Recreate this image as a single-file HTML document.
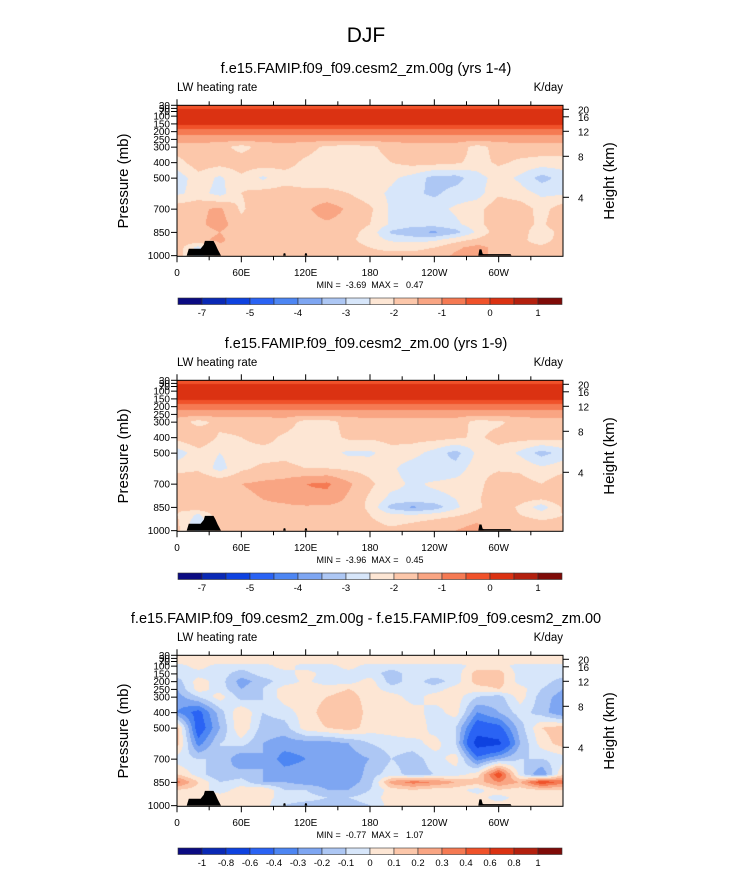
<!DOCTYPE html>
<html><head><meta charset="utf-8">
<style>
body{margin:0;background:#fff;}
#wrap{position:relative;width:733px;height:872px;overflow:hidden;background:#fff;font-family:"Liberation Sans",sans-serif;}
canvas{position:absolute;left:177px;}
svg{position:absolute;left:0;top:0;}
</style></head>
<body>
<div id="wrap">
<canvas id="c0" width="386" height="151" style="top:105px"></canvas>
<canvas id="c1" width="386" height="151" style="top:380px"></canvas>
<canvas id="c2" width="386" height="151" style="top:655px"></canvas>
<svg id="ov" width="733" height="872"></svg>
</div>
<script>
const levels=[30,70,100,150,200,250,300,400,500,600,700,800,850,900,950,1000];
const lons=[0,20,40,60,80,100,120,140,160,180,200,220,240,260,280,300,320,340,360];
const colors=["#0b0b82","#0a29b5","#0e42e0","#2a63f4","#4d86f3","#7ea6f2","#adc7f4","#d7e6fa","#fde6d4","#fcc7aa","#f9a583","#f57a53","#f0522a","#db3212","#b3200e","#7f0b08"];
const boundsAbs=[-7,-6,-5,-4.5,-4,-3.5,-3,-2.5,-2,-1.5,-1,-0.5,0,0.5,1];
const boundsDiff=[-1,-0.8,-0.6,-0.4,-0.3,-0.2,-0.1,0,0.1,0.2,0.3,0.4,0.6,0.8,1];
const labelsAbs=["-7","","-5","","-4","","-3","","-2","","-1","","0","","1"];
const labelsDiff=["-1","-0.8","-0.6","-0.4","-0.3","-0.2","-0.1","0","0.1","0.2","0.3","0.4","0.6","0.8","1"];
const xTickLabels=["0","60E","120E","180","120W","60W"];
const xTickLons=[0,60,120,180,240,300];
const pTicks=[30,50,70,100,150,200,250,300,400,500,700,850,1000];
const hTicks=["20","16","12","8","4"];
const hTickOffsets=[4,11.5,26,51,92];
function row(v){return Array(19).fill(v);}
const dataA=[row(-0.3),row(0.2),row(0.3),row(0.1),row(-0.7),row(-1.3),
[-1.7,-1.7,-1.8,-2.2,-1.8,-1.7,-1.8,-2.1,-2.2,-2.1,-1.8,-1.7,-1.7,-1.7,-2.2,-1.8,-1.7,-1.7,-1.7],
[-2.2,-1.7,-1.8,-1.7,-1.7,-1.8,-2.1,-2.3,-2.2,-2.2,-2.0,-1.8,-1.8,-1.9,-2.2,-1.9,-2.1,-2.2,-2.2],
[-2.8,-2.2,-2.6,-2.1,-2.6,-2.2,-2.2,-2.2,-2.2,-2.2,-2.4,-2.7,-3.2,-3.2,-2.7,-2.3,-2.6,-3.2,-2.8],
[-2.6,-2.3,-2.7,-2.0,-1.8,-1.8,-1.9,-1.9,-2.0,-2.3,-2.6,-2.9,-3.1,-2.8,-2.7,-2.1,-2.3,-2.6,-2.6],
[-1.7,-1.6,-1.4,-2.1,-1.6,-1.6,-1.6,-1.2,-1.6,-1.9,-2.6,-2.7,-2.7,-2.4,-2.2,-1.6,-1.7,-2.2,-1.7],
[-1.6,-1.6,-1.3,-1.8,-1.6,-1.6,-1.7,-1.6,-1.7,-2.0,-2.6,-2.8,-2.8,-2.6,-2.2,-1.6,-1.8,-2.1,-1.6],
[-1.8,-1.7,-1.5,-1.8,-1.7,-1.6,-1.6,-1.7,-1.8,-2.2,-3.1,-3.4,-3.6,-3.2,-2.4,-1.7,-1.8,-2.3,-1.8],
[-1.8,-1.6,-1.4,-1.8,-1.7,-1.6,-1.6,-1.7,-1.9,-2.2,-2.6,-2.7,-2.6,-2.2,-1.9,-1.6,-1.9,-2.2,-1.8],
[-1.7,-2.7,-1.6,-1.7,-1.7,-1.6,-1.5,-1.7,-1.8,-2.0,-2.1,-2.1,-2.0,-1.6,-1.3,-1.7,-1.9,-1.9,-1.7],
[-1.7,-2.8,-1.7,-1.7,-1.7,-1.6,-1.6,-1.7,-1.8,-1.9,-1.9,-1.9,-1.8,-1.4,-1.3,-1.7,-1.8,-1.8,-1.7]];
const dataB=[row(-0.3),row(0.2),row(0.3),row(0.1),row(-0.7),row(-1.3),
[-1.7,-2.2,-1.8,-1.8,-1.8,-1.7,-2.2,-2.2,-1.8,-1.7,-1.7,-1.7,-1.7,-1.7,-2.2,-2.1,-1.8,-1.7,-1.7],
[-1.8,-1.5,-2.1,-2.0,-1.8,-2.1,-2.3,-2.2,-1.9,-1.9,-1.8,-1.8,-1.8,-1.9,-2.1,-1.8,-1.8,-1.8,-1.8],
[-2.8,-2.2,-2.5,-2.2,-2.2,-2.1,-2.2,-2.3,-2.6,-2.6,-2.2,-2.3,-2.7,-3.2,-2.4,-2.2,-2.6,-3.2,-2.8],
[-2.2,-2.1,-2.7,-2.1,-1.9,-1.9,-2.0,-2.0,-2.1,-2.2,-2.4,-2.8,-3.0,-2.8,-2.2,-2.1,-2.1,-2.4,-2.2],
[-1.6,-1.5,-1.6,-1.5,-1.4,-1.3,-1.0,-0.9,-1.4,-1.9,-2.3,-2.6,-2.4,-2.3,-2.2,-1.6,-1.8,-2.0,-1.6],
[-1.6,-1.6,-1.5,-1.6,-1.5,-1.4,-1.1,-1.2,-1.6,-2.1,-2.7,-2.7,-2.7,-2.5,-2.1,-1.5,-1.8,-2.0,-1.6],
[-1.9,-1.6,-1.6,-1.7,-1.6,-1.6,-1.6,-1.6,-1.7,-2.1,-3.2,-3.6,-3.3,-2.6,-2.1,-1.7,-2.1,-2.8,-1.9],
[-2.0,-2.6,-1.6,-1.7,-1.7,-1.6,-1.6,-1.6,-1.7,-2.0,-2.4,-2.5,-2.3,-2.1,-1.8,-1.7,-2.0,-2.2,-2.0],
[-1.9,-2.9,-1.8,-1.7,-1.7,-1.6,-1.5,-1.6,-1.7,-1.9,-2.1,-2.0,-1.8,-1.6,-1.5,-1.7,-1.8,-1.9,-1.9],
[-1.9,-2.6,-1.8,-1.7,-1.7,-1.6,-1.6,-1.7,-1.8,-1.9,-1.9,-1.8,-1.7,-1.5,-1.4,-1.7,-1.8,-1.9,-1.9]];
const dataC=[row(0.05),row(0.05),
[-0.05,0.05,-0.05,-0.05,-0.05,0.05,-0.05,-0.05,0.05,-0.05,-0.05,-0.05,-0.05,-0.05,0.05,0.05,-0.05,-0.05,-0.05],
[-0.05,-0.05,-0.05,-0.15,-0.05,-0.05,0.05,-0.05,-0.05,-0.05,-0.15,-0.05,-0.05,-0.05,0.15,0.15,-0.05,-0.05,-0.05],
[-0.15,0.05,-0.05,-0.25,-0.15,-0.05,0.02,-0.05,-0.05,0.05,-0.15,-0.05,-0.15,-0.05,0.15,0.15,-0.05,-0.05,-0.15],
[-0.2,0.05,-0.05,-0.2,-0.1,0.05,0.05,0.05,0.1,0.05,-0.05,-0.05,-0.05,0.05,0.05,0.1,0.05,-0.1,-0.2],
[-0.25,-0.1,0.05,-0.15,-0.1,0.05,0.05,0.1,0.15,0.05,0.05,-0.05,0.05,0.05,-0.1,-0.15,0.05,-0.15,-0.25],
[-0.3,-0.45,-0.15,0.1,-0.1,-0.05,0.05,0.15,0.2,0.05,0.1,0.05,-0.05,0.05,-0.3,-0.2,-0.05,-0.15,-0.3],
[0.15,-0.5,-0.2,0.1,-0.15,-0.15,0.05,0.1,0.15,0.05,0.05,0.1,-0.05,-0.1,-0.5,-0.45,-0.15,0.1,0.15],
[0.15,-0.35,-0.1,-0.05,-0.2,-0.25,-0.25,-0.25,-0.2,-0.1,-0.05,-0.05,0.05,-0.1,-0.7,-0.65,-0.2,0.05,0.15],
[-0.05,-0.1,-0.1,-0.3,-0.2,-0.35,-0.3,-0.3,-0.25,-0.2,-0.1,-0.15,-0.05,0.05,-0.35,-0.2,-0.1,-0.1,-0.05],
[0.1,-0.05,-0.2,-0.15,-0.2,-0.25,-0.25,-0.25,-0.3,-0.15,-0.05,-0.15,-0.1,-0.05,0.05,0.5,-0.05,-0.3,0.1],
[0.35,0.1,-0.1,-0.05,-0.2,-0.2,-0.25,-0.25,-0.25,-0.15,0.25,0.35,0.3,0.2,0.15,0.3,0.2,0.5,0.35],
[0.1,0.05,-0.05,0.05,0.1,-0.1,-0.1,-0.2,-0.2,-0.1,0.05,0.1,0.05,0.05,-0.05,0.1,0.05,0.1,0.1],
[0.05,0.05,0.05,0.05,0.05,-0.05,-0.05,-0.1,-0.1,-0.05,0.05,0.05,0.05,0.05,0.05,-0.05,0.05,0.05,0.05],
[0.05,0.05,0.05,0.05,0.05,-0.1,-0.15,-0.15,-0.15,-0.1,0.05,0.05,0.05,0.05,0.05,0.05,0.05,0.05,0.05]];
const topoLon=[0,9,11,22,25,26,34,36,38,41,99,99.5,101,101.5,119,119.5,121,121.5,281,282,284,285,286,311,312,360];
const topoP=[1000,1000,955,955,930,905,905,930,960,1000,1000,985,985,1000,1000,985,985,1000,1000,960,960,988,990,990,1000,1000];
const titles=["f.e15.FAMIP.f09_f09.cesm2_zm.00g (yrs 1-4)","f.e15.FAMIP.f09_f09.cesm2_zm.00 (yrs 1-9)","f.e15.FAMIP.f09_f09.cesm2_zm.00g - f.e15.FAMIP.f09_f09.cesm2_zm.00"];
const minmax=["MIN = \u00a0-3.69 \u00a0MAX = \u00a0 0.47","MIN = \u00a0-3.96 \u00a0MAX = \u00a0 0.45","MIN = \u00a0-0.77 \u00a0MAX = \u00a0 1.07"];

const X0=177,W=386,Y0=105.3,PS=0.155,H=151;
function xOf(lon){return X0+lon/360*W;}
function yOf(p,dy){return Y0+dy+(p-30)*PS;}
function interp(data,lon,p){
  let j=Math.min(Math.floor(lon/20),17),fx=(lon-lons[j])/20;
  let i=0;while(i<levels.length-2&&p>levels[i+1])i++;
  let fy=(p-levels[i])/(levels[i+1]-levels[i]);fy=Math.max(0,Math.min(1,fy));
  const a=data[i][j],b=data[i][j+1],c=data[i+1][j],d=data[i+1][j+1];
  return (a*(1-fx)+b*fx)*(1-fy)+(c*(1-fx)+d*fx)*fy;
}
function hex(h){return [1,3,5].map(k=>parseInt(h.substr(k,2),16));}
const rgb=colors.map(hex);
function draw(id,data,bounds){
  const cv=document.getElementById(id),ctx=cv.getContext('2d');
  const img=ctx.createImageData(W,H);
  for(let y=0;y<H;y++){const p=30+(y+0.5)/PS;for(let x=0;x<W;x++){
    const v=interp(data,(x+0.5)/W*360,p);let k=0;while(k<bounds.length&&v>=bounds[k])k++;
    const c=rgb[k],o=(y*W+x)*4;img.data[o]=c[0];img.data[o+1]=c[1];img.data[o+2]=c[2];img.data[o+3]=255;}}
  ctx.putImageData(img,0,0);
}
draw('c0',dataA,boundsAbs);draw('c1',dataB,boundsAbs);draw('c2',dataC,boundsDiff);

const NS="http://www.w3.org/2000/svg",sv=document.getElementById('ov');
function el(t,a,txt){const e=document.createElementNS(NS,t);for(const k in a)e.setAttribute(k,a[k]);if(txt!==undefined)e.textContent=txt;sv.appendChild(e);return e;}
let t=el('text',{x:366,y:42,'font-size':21,'text-anchor':'middle'},'DJF');


for(let k=0;k<3;k++){
  const dy=275*k;
  t=el('text',{x:366,y:73+dy,'font-size':14.5,'text-anchor':'middle'},titles[k]);
  
  
  t=el('text',{x:177,y:91+dy,'font-size':11.5},'LW heating rate');
  
  
  t=el('text',{x:563,y:91+dy,'font-size':11.5,'text-anchor':'end'},'K/day');
  
  
  let d='M'+xOf(topoLon[0])+','+yOf(1000,dy);
  for(let i=0;i<topoLon.length;i++)d+=' L'+xOf(topoLon[i]).toFixed(1)+','+yOf(topoP[i],dy).toFixed(1);
  d+=' Z';
  t=el('path',{d:d,fill:'#000'});
  
  
  t=el('rect',{x:X0,y:Y0+dy,width:W,height:H,fill:'none',stroke:'#000','stroke-width':1});
  
  
  for(let lon=0;lon<360;lon+=30){
    const major=lon%60===0,x=xOf(lon),L=major?6:4;
    el('line',{x1:x,x2:x,y1:Y0+dy+H,y2:Y0+dy+H+L,stroke:'#000'});
    el('line',{x1:x,x2:x,y1:Y0+dy,y2:Y0+dy-L,stroke:'#000'});
  }
  xTickLabels.forEach((s,i)=>{t=el('text',{x:xOf(xTickLons[i]),y:276+dy,'font-size':10,'text-anchor':'middle'},s);
    
    });
  pTicks.forEach(p=>{const y=yOf(p,dy);el('line',{x1:X0-6,x2:X0,y1:y,y2:y,stroke:'#000'});
    t=el('text',{x:170,y:y+3.5,'font-size':10,'text-anchor':'end'},String(p));
    
    });
  hTicks.forEach((s,i)=>{const y=Y0+dy+hTickOffsets[i];el('line',{x1:X0+W,x2:X0+W+6,y1:y,y2:y,stroke:'#000'});
    t=el('text',{x:578,y:y+4,'font-size':10},s);
    
    });
  t=el('text',{x:0,y:0,'font-size':15,'text-anchor':'middle',transform:`translate(128,${181+dy}) rotate(-90)`},'Pressure (mb)');
  
  
  t=el('text',{x:0,y:0,'font-size':15,'text-anchor':'middle',transform:`translate(614,${181+dy}) rotate(-90)`},'Height (km)');
  
  
  t=el('text',{x:370,y:288+dy,'font-size':9,'text-anchor':'middle'},minmax[k]);
  
  
  const by=298+dy,bw=24;
  colors.forEach((c,i)=>{t=el('rect',{x:178+i*bw,y:by,width:bw,height:6.5,fill:c,stroke:'#333','stroke-width':0.6});
    
    });
  const labs=k===2?labelsDiff:labelsAbs;
  labs.forEach((s,i)=>{if(!s)return;t=el('text',{x:178+(i+1)*bw,y:by+18,'font-size':9.5,'text-anchor':'middle'},s);
    
    });
}
</script>
</body></html>
